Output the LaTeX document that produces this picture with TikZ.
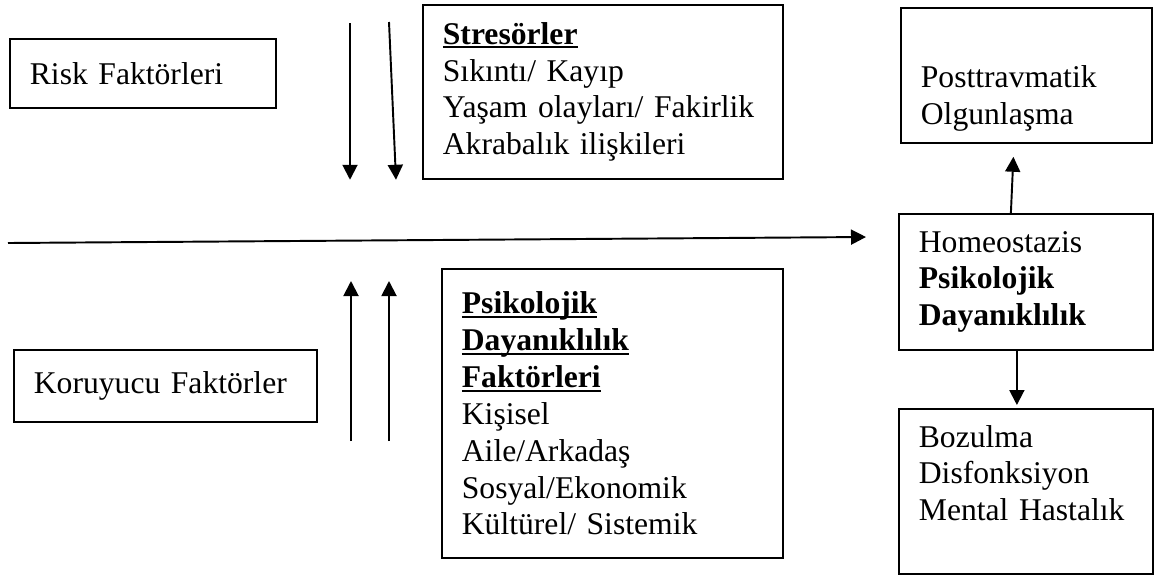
\documentclass[tikz,border=0pt]{standalone}
\usepackage{fontspec}
\setmainfont{Liberation Serif}
\usetikzlibrary{arrows.meta}

\newcommand{\thickul}[1]{\leavevmode\setbox0=\hbox{#1}\rlap{\rule[-2.4pt]{\wd0}{1.1pt}}\box0}

\begin{document}
\begin{tikzpicture}[> = {Triangle[length = 0.3cm, width = 0.3cm]}, line width = 1.1pt,
	box/.style = {draw, line width = 1pt, anchor = north west, align = left,
		inner xsep = 0.4cm, inner ysep = 0pt, font = \fontsize{18}{21}\selectfont}]

	\useasboundingbox (0, 0) rectangle (23.1, -11.54);

	% Boxes

	\node [box, text width = 4.52cm, minimum height = 1.38cm] (risk) at (0.18, -0.76) {Risk Faktörleri};
	\node [box, text width = 6.4cm, minimum height = 3.48cm] (stres) at (8.44, -0.08)
		{\thickul{\textbf{Stresörler}}\\ Sıkıntı/ Kayıp\\ Yaşam olayları/ Fakirlik\\ Akrabalık ilişkileri};
	\node [box, text width = 5.26cm, minimum height = 1.44cm] (koruyucu) at (0.26, -6.98) {Koruyucu Faktörler};
	\node [box, text width = 6.02cm, minimum height = 5.78cm] (dayaniklilik) at (8.82, -5.36)
		{\thickul{\textbf{Psikolojik}}\\ \thickul{\textbf{Dayanıklılık}}\\ \thickul{\textbf{Faktörleri}}\\
		 Kişisel\\ Aile/Arkadaş\\ Sosyal/Ekonomik\\ Kültürel/ Sistemik};
	\node [box, text width = 4.22cm, minimum height = 2.7cm] (post) at (18.0, -0.14)
		{\mbox{}\\[0.62cm] Posttravmatik\\ Olgunlaşma};
	\node [box, text width = 4.28cm, minimum height = 2.72cm] (homeo) at (17.96, -4.26)
		{Homeostazis\\ \textbf{Psikolojik}\\ \textbf{Dayanıklılık}};
	\node [box, text width = 4.28cm, minimum height = 3.3cm] (bozulma) at (17.96, -8.16)
		{Bozulma\\ Disfonksiyon\\ Mental Hastalık\\ \mbox{}};

	% Risk and protective arrows

	\coordinate (down1) at (7.0, -0.46);
	\coordinate (down2) at (7.78, -0.44);
	\coordinate (up1) at (7.02, -8.82);
	\coordinate (up2) at (7.78, -8.82);

	\draw [->] (down1) -- (down1 |- stres.south);
	\draw [->] (down2) -- ([xshift = 0.14cm] down2 |- stres.south);
	\draw [->] (up1) -- ++(0, 3.2);
	\draw [->] (up2) -- ++(0, 3.2);

	% Time line

	\coordinate (start) at (0.16, -4.86);
	\coordinate (end) at (17.32, -4.74);
	\draw [->] (start) -- (end);

	% Outcomes

	\draw [->] ([xshift = -0.3cm] homeo.north) -- ([xshift = -0.26cm, yshift = -0.26cm] post.south);
	\draw [->] ([xshift = -0.18cm] homeo.south) -- ([xshift = -0.18cm, yshift = 0.06cm] bozulma.north);

\end{tikzpicture}
\end{document}
